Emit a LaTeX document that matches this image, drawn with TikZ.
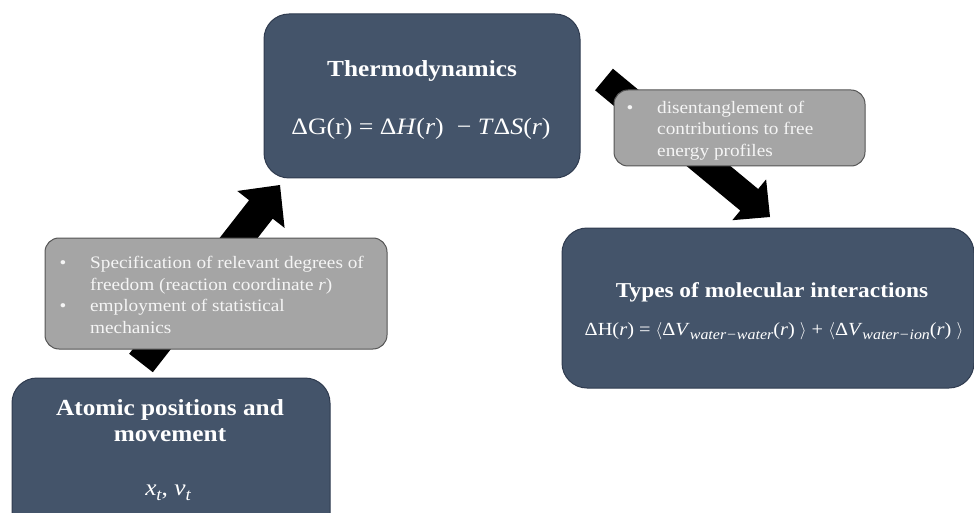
\documentclass[tikz,border=0pt]{standalone}
\usepackage{fontspec}
\setmainfont[FakeStretch=1.1]{Liberation Serif}
\usetikzlibrary{calc}
\definecolor{slate}{HTML}{44546A}
\definecolor{slateedge}{HTML}{2F3B4F}
\definecolor{greyfill}{HTML}{A5A5A5}
\definecolor{greyedge}{HTML}{555555}
\definecolor{greytext}{HTML}{F5F5F5}
% #1 tail, #2 tip, #3 shaft half width, #4 head half width, #5 head length
\newcommand\fatarrow[5]{%
  \coordinate (fahead) at ($(#2)!#5!(#1)$);
  \fill[black] ($(#1)!#3!90:(#2)$) -- ($(fahead)!#3!90:(#2)$) -- ($(fahead)!#4!90:(#2)$)
    -- (#2) -- ($(fahead)!#4!-90:(#2)$) -- ($(fahead)!#3!-90:(#2)$) -- ($(#1)!#3!-90:(#2)$) -- cycle;
}
% italic subscript: #1 size, #2 text
\newcommand\itsub[2]{\raisebox{-0.22em}{\fontsize{#1}{#1}\selectfont\itshape #2}}
\begin{document}
\begin{tikzpicture}[x=1pt,y=-1pt,
  darkbox/.style={draw=slateedge, line width=1pt, fill=slate, rounded corners=25pt, inner sep=0pt},
  greybox/.style={draw=greyedge, line width=1pt, fill=greyfill, rounded corners=14pt, inner sep=0pt},
  titletext/.style={text=white, font=\bfseries\fontsize{#1}{#1}\selectfont, inner sep=0pt, anchor=base},
  eqtext/.style={text=white, font=\fontsize{#1}{#1}\selectfont, inner sep=0pt, anchor=base},
  listtext/.style={text=greytext, font=\fontsize{17.5}{21}\selectfont, inner sep=0pt, anchor=base west},
  bullettext/.style={text=greytext, font=\fontsize{17.5}{21}\selectfont, inner sep=0pt, anchor=base},
]
\useasboundingbox (0,0) rectangle (974,513);
\clip (0,0) rectangle (974,513);

% connector end points
\coordinate (a1tail) at (141,363);
\coordinate (a1tip) at (280,185);
\coordinate (a2tail) at (604,79.5);
\coordinate (a2tip) at (770,217);
\fatarrow{a1tail}{a1tip}{15pt}{30pt}{31pt}
\fatarrow{a2tail}{a2tip}{14pt}{26.5pt}{27pt}

% boxes
\node[darkbox, minimum width=316pt, minimum height=164pt] (thermo) at (422,96) {};
\node[darkbox, minimum width=412pt, minimum height=160pt] (types) at (768,308) {};
\node[darkbox, minimum width=318pt, minimum height=162pt] (atomic) at (171,459) {};
\node[greybox, minimum width=342pt, minimum height=111pt] (grey1) at (216,293.5) {};
\node[greybox, minimum width=251pt, minimum height=76pt] (grey2) at (739.5,128) {};

% thermodynamics
\node[titletext=23] (thermoTitle) at (422,76.5) {Thermodynamics};
\node[eqtext=23.5] (thermoEq) at (421,134.5) {ΔG(r) = Δ\textit{H}(\textit{r})\ \ − \textit{T}Δ\textit{S}(\textit{r})};

% types of molecular interactions
\node[titletext=21.2] (typesTitle) at (772,297) {Types of molecular interactions};
\node[eqtext=18.5] (typesEq) at (774,335) {ΔH(\textit{r}) = $\langle$Δ\textit{V}\itsub{14.5}{water−water}(\textit{r}) $\rangle$ + $\langle$Δ\textit{V}\itsub{14.5}{water−ion}(\textit{r}) $\rangle$};

% atomic positions
\node[titletext=23] (atomicTitleA) at (170,415) {Atomic positions and};
\node[titletext=23] (atomicTitleB) at (170,441.7) {movement};
\node[eqtext=23] (atomicEq) at (168,495) {\textit{x}\itsub{17}{t}, \textit{v}\itsub{17}{t}};

% grey box 1
\node[bullettext] (g1b1) at (63,268.3) {•};
\node[listtext] (g1l1) at (90,268.3) {Specification of relevant degrees of};
\node[listtext] (g1l2) at (90,290) {freedom (reaction coordinate \textit{r})};
\node[bullettext] (g1b2) at (63,311.7) {•};
\node[listtext] (g1l3) at (90,311.7) {employment of statistical};
\node[listtext] (g1l4) at (90,333.3) {mechanics};

% grey box 2
\node[bullettext] (g2b1) at (630,113.3) {•};
\node[listtext] (g2l1) at (657,113.3) {disentanglement of};
\node[listtext] (g2l2) at (657,135) {contributions to free};
\node[listtext] (g2l3) at (657,156.7) {energy profiles};
\end{tikzpicture}
\end{document}
